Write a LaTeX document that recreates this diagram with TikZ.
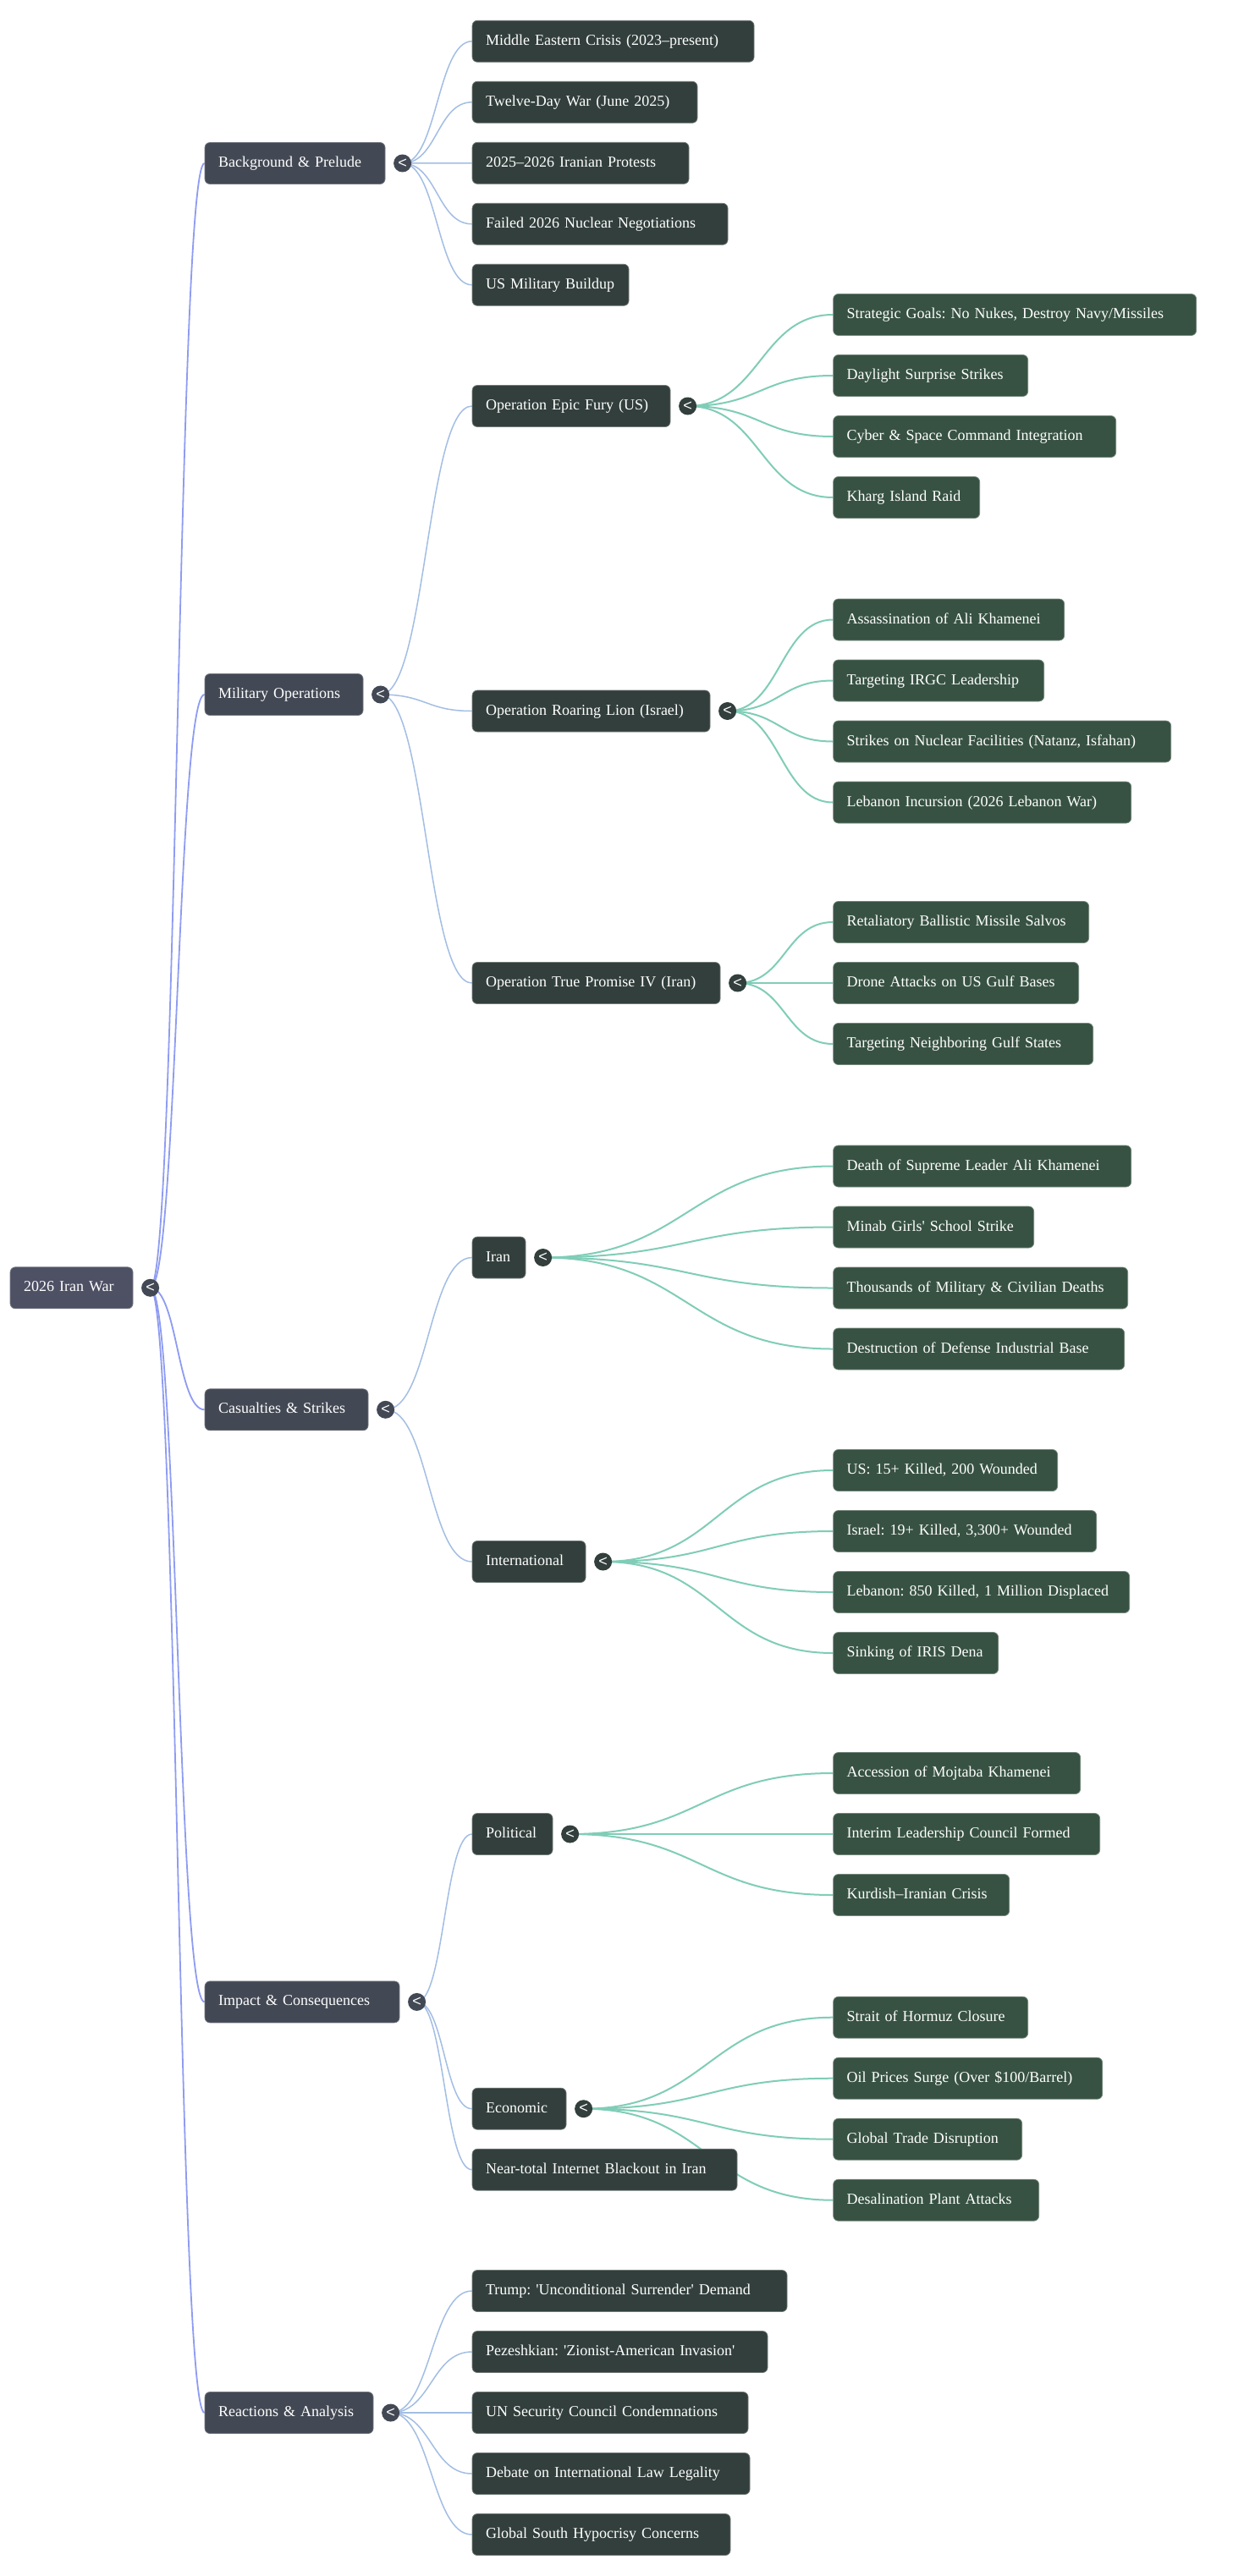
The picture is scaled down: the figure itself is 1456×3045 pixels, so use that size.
\documentclass[tikz,border=0pt]{standalone}
\usepackage{fontspec}
\setmainfont{Liberation Serif}
\newfontfamily\togfont{Liberation Sans}
\usetikzlibrary{positioning,calc}
\definecolor{rootfill}{HTML}{4E5064}
\definecolor{onefill}{HTML}{434954}
\definecolor{twofill}{HTML}{323F3C}
\definecolor{threefill}{HTML}{375242}
\definecolor{rootlink}{HTML}{8E9CF2}
\definecolor{onelink}{HTML}{A3BEE4}
\definecolor{twolink}{HTML}{80CDB7}
\pgfdeclarelayer{paper}
\pgfdeclarelayer{links}
\pgfsetlayers{paper,links,main}
\frenchspacing
\begin{document}
\begin{tikzpicture}[x=1pt,y=-1pt,
    box/.style={rectangle, rounded corners=6pt, anchor=west, minimum height=49pt,
      inner xsep=16pt, inner ysep=0pt, text=white, align=left, line width=0.7pt,
      text height=13.5pt, text depth=4.5pt, font=\fontsize{18}{22}\selectfont},
    lvlzero/.style={box, fill=rootfill, draw=rootfill!75!white},
    lvlone/.style={box, fill=onefill, draw=onefill!75!white},
    lvltwo/.style={box, fill=twofill, draw=twofill!70!white},
    lvlthree/.style={box, fill=threefill, draw=threefill!70!white},
    tog/.style={circle, minimum size=21pt, inner sep=0pt, text=white,
      font=\togfont\fontsize{18}{18}\selectfont, right=9.5pt of #1},
    togone/.style={tog=#1, fill=onefill},
    togtwo/.style={tog=#1, fill=twofill},
    link/.style={to path={let \p1=(\tikztostart), \p2=(\tikztotarget) in
      .. controls ({(\x1+\x2)/2},\y1) and ({(\x1+\x2)/2},\y2) .. (\tikztotarget)}}]
    \useasboundingbox (0,0) rectangle (1456,3045);
    \begin{pgfonlayer}{paper}
    \fill[white] (0,0) rectangle (1456,3045);
    \end{pgfonlayer}
    \node[lvlzero, text width=113pt] (war) at (11.7,1522.3) {2026 Iran War};
    \node[togone=war] (twar) {<};
    \node[lvlone, text width=181pt] (prelude) at (241.7,193) {Background \& Prelude};
    \node[lvlone, text width=155pt] (military) at (241.7,821) {Military Operations};
    \node[lvlone, text width=161pt] (casualties) at (241.7,1666.3) {Casualties \& Strikes};
    \node[lvlone, text width=198pt] (impact) at (241.7,2366.4) {Impact \& Consequences};
    \node[lvlone, text width=167pt] (reactions) at (241.7,2852) {Reactions \& Analysis};
    \node[togone=prelude] (tprelude) {<};
    \node[togone=military] (tmilitary) {<};
    \node[togone=casualties] (tcasualties) {<};
    \node[togone=impact] (timpact) {<};
    \node[togone=reactions] (treactions) {<};
    \node[lvltwo, text width=301pt] (pre1) at (557.7,48.8) {Middle Eastern Crisis (2023--present)};
    \node[lvltwo, text width=234pt] (pre2) at (557.7,120.8) {Twelve-Day War (June 2025)};
    \node[lvltwo, text width=224pt] (pre3) at (557.7,192.8) {2025--2026 Iranian Protests};
    \node[lvltwo, text width=270pt] (pre4) at (557.7,264.8) {Failed 2026 Nuclear Negotiations};
    \node[lvltwo, text width=153pt] (pre5) at (557.7,336.8) {US Military Buildup};
    \node[lvltwo, text width=202pt] (fury) at (557.7,480) {Operation Epic Fury (US)};
    \node[lvltwo, text width=249pt] (lion) at (557.7,840.5) {Operation Roaring Lion (Israel)};
    \node[lvltwo, text width=261pt] (promise) at (557.7,1162) {Operation True Promise IV (Iran)};
    \node[lvltwo, text width=31pt] (iran) at (557.7,1486.5) {Iran};
    \node[lvltwo, text width=102pt] (intl) at (557.7,1846) {International};
    \node[lvltwo, text width=63pt] (political) at (557.7,2168) {Political};
    \node[lvltwo, text width=79pt] (economic) at (557.7,2492.7) {Economic};
    \node[lvltwo, text width=281pt] (blackout) at (557.7,2564.7) {Near-total Internet Blackout in Iran};
    \node[lvltwo, text width=340pt] (re1) at (557.7,2708) {Trump: \textquotesingle Unconditional Surrender\textquotesingle{} Demand};
    \node[lvltwo, text width=317pt] (re2) at (557.7,2780) {Pezeshkian: \textquotesingle Zionist-American Invasion\textquotesingle};
    \node[lvltwo, text width=294pt] (re3) at (557.7,2852) {UN Security Council Condemnations};
    \node[lvltwo, text width=296pt] (re4) at (557.7,2924) {Debate on International Law Legality};
    \node[lvltwo, text width=273pt] (re5) at (557.7,2996) {Global South Hypocrisy Concerns};
    \node[togtwo=fury] (tfury) {<};
    \node[togtwo=lion] (tlion) {<};
    \node[togtwo=promise] (tpromise) {<};
    \node[togtwo=iran] (tiran) {<};
    \node[togtwo=intl] (tintl) {<};
    \node[togtwo=political] (tpolitical) {<};
    \node[togtwo=economic] (teconomic) {<};
    \node[lvlthree, text width=397pt] (fury1) at (984.3,372) {Strategic Goals: No Nukes, Destroy Navy/Missiles};
    \node[lvlthree, text width=198pt] (fury2) at (984.3,444) {Daylight Surprise Strikes};
    \node[lvlthree, text width=302pt] (fury3) at (984.3,516) {Cyber \& Space Command Integration};
    \node[lvlthree, text width=141pt] (fury4) at (984.3,588) {Kharg Island Raid};
    \node[lvlthree, text width=241pt] (lion1) at (984.3,732.5) {Assassination of Ali Khamenei};
    \node[lvlthree, text width=217pt] (lion2) at (984.3,804.5) {Targeting IRGC Leadership};
    \node[lvlthree, text width=367pt] (lion3) at (984.3,876.5) {Strikes on Nuclear Facilities (Natanz, Isfahan)};
    \node[lvlthree, text width=320pt] (lion4) at (984.3,948.5) {Lebanon Incursion (2026 Lebanon War)};
    \node[lvlthree, text width=270pt] (promise1) at (984.3,1090) {Retaliatory Ballistic Missile Salvos};
    \node[lvlthree, text width=258pt] (promise2) at (984.3,1162) {Drone Attacks on US Gulf Bases};
    \node[lvlthree, text width=275pt] (promise3) at (984.3,1234) {Targeting Neighboring Gulf States};
    \node[lvlthree, text width=320pt] (iran1) at (984.3,1378.5) {Death of Supreme Leader Ali Khamenei};
    \node[lvlthree, text width=205pt] (iran2) at (984.3,1450.5) {Minab Girls\textquotesingle{} School Strike};
    \node[lvlthree, text width=316pt] (iran3) at (984.3,1522.5) {Thousands of Military \& Civilian Deaths};
    \node[lvlthree, text width=312pt] (iran4) at (984.3,1594.5) {Destruction of Defense Industrial Base};
    \node[lvlthree, text width=233pt] (intl1) at (984.3,1738) {US: 15+ Killed, 200 Wounded};
    \node[lvlthree, text width=279pt] (intl2) at (984.3,1810) {Israel: 19+ Killed, 3,300+ Wounded};
    \node[lvlthree, text width=318pt] (intl3) at (984.3,1882) {Lebanon: 850 Killed, 1 Million Displaced};
    \node[lvlthree, text width=163pt] (intl4) at (984.3,1954) {Sinking of IRIS Dena};
    \node[lvlthree, text width=260pt] (pol1) at (984.3,2096) {Accession of Mojtaba Khamenei};
    \node[lvlthree, text width=283pt] (pol2) at (984.3,2168) {Interim Leadership Council Formed};
    \node[lvlthree, text width=176pt] (pol3) at (984.3,2240) {Kurdish--Iranian Crisis};
    \node[lvlthree, text width=198pt] (eco1) at (984.3,2384.7) {Strait of Hormuz Closure};
    \node[lvlthree, text width=286pt] (eco2) at (984.3,2456.7) {Oil Prices Surge (Over \$100/Barrel)};
    \node[lvlthree, text width=191pt] (eco3) at (984.3,2528.7) {Global Trade Disruption};
    \node[lvlthree, text width=211pt] (eco4) at (984.3,2600.7) {Desalination Plant Attacks};
    \begin{pgfonlayer}{links}
    \foreach \c in {prelude,military,casualties,impact,reactions}
      \draw[link, rootlink, line width=1.8pt] (twar.center) to (\c.west);
    \foreach \s/\c in {tprelude/pre1,tprelude/pre2,tprelude/pre3,tprelude/pre4,tprelude/pre5,
        tmilitary/fury,tmilitary/lion,tmilitary/promise,tcasualties/iran,tcasualties/intl,
        timpact/political,timpact/economic,timpact/blackout,
        treactions/re1,treactions/re2,treactions/re3,treactions/re4,treactions/re5}
      \draw[link, onelink, line width=1.5pt] (\s.center) to (\c.west);
    \foreach \s/\c in {tfury/fury1,tfury/fury2,tfury/fury3,tfury/fury4,
        tlion/lion1,tlion/lion2,tlion/lion3,tlion/lion4,
        tpromise/promise1,tpromise/promise2,tpromise/promise3,
        tiran/iran1,tiran/iran2,tiran/iran3,tiran/iran4,
        tintl/intl1,tintl/intl2,tintl/intl3,tintl/intl4,
        tpolitical/pol1,tpolitical/pol2,tpolitical/pol3,
        teconomic/eco1,teconomic/eco2,teconomic/eco3,teconomic/eco4}
      \draw[link, twolink, line width=2pt] (\s.center) to (\c.west);
    \end{pgfonlayer}
\end{tikzpicture}
\end{document}
